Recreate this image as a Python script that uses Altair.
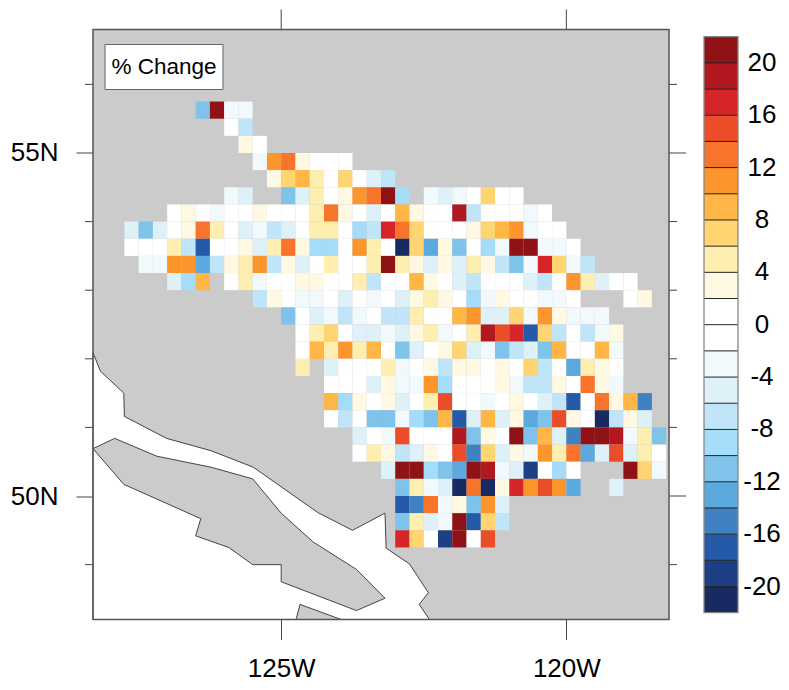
import altair as alt
import pandas as pd

# grid cells: (first column, values by column); None = no cell; 0 = white bin
ROW_00 = (5, [-11, 21, -3, -3])
ROW_01 = (7, [0, -7])
ROW_02 = (8, [3, 0])
ROW_03 = (9, [-3, 11, 13, 3, 0, 0, 0])
ROW_04 = (10, [3, 7, 9, 5, 0, 7, 0, -5, -7])
ROW_05 = (7, [-3, -5, None, None, -11, -5, 5, 0, 3, 11, 13, 21, -9, None, -3, -5, -3, 0, 7, 0, 0])
ROW_06 = (3, [0, 3, 0, -3, 0, 0, 3, 0, 0, 0, 5, 13, 3, 0, -5, 0, 9, 3, 0, 0, 19, -7, 0, 0, 0, -3, 0])
ROW_07 = (0, [-5, -11, -5, 0, 3, 13, 5, 0, -5, -3, -7, -5, 0, 5, 5, 0, -9, -7, 17, 13, 7, 0, 0, 0, 3, 7, 9, 11, -3, 0, 0])
ROW_08 = (0, [0, 0, 0, 5, -7, -17, 0, 0, 3, -5, 5, 13, 3, -9, -9, 0, 11, 5, 0, -21, 7, -13, 3, -11, 0, -9, -3, 21, 21, -3, -3, 0])
ROW_09 = (1, [-3, -3, 11, 11, -13, -7, 3, 5, 11, -7, 3, -5, 0, 5, 0, 0, 5, 21, 5, 3, -5, 3, -5, 5, 3, -7, -11, -3, 17, 7, -3, -7])
ROW_10 = (3, [-5, -9, 9, None, 0, 5, -3, 0, 0, 3, 3, 0, 0, 5, -7, 0, 0, 9, 3, 0, -5, -7, 0, 0, 0, -5, -7, 0, 11, 5, -5, 0, 0])
ROW_11 = (9, [-7, 3, 0, -3, -3, 0, -5, 0, -3, 0, -5, 3, 5, 3, 0, -9, -3, 3, 0, 0, -3, -3, 0, None, None, None, 0, 3])
ROW_12 = (11, [-11, 0, -5, -3, -7, -3, 0, -7, -7, 5, 0, 0, 9, 11, -5, -5, 7, -3, 11, 3, -3, -3, -3])
ROW_13 = (12, [0, 5, 7, 0, -5, -5, -3, -5, 3, 5, -3, 0, 5, 19, 15, 17, -17, 7, -7, 0, -7, -3, 3])
ROW_14 = (12, [0, 9, 5, 11, 5, 9, 0, -11, -5, 0, 3, 7, -5, -3, -11, -7, -5, -11, 9, 0, 0, 9, -3])
ROW_15 = (12, [5, None, -5, 0, 0, 0, 5, -3, 0, 3, -7, 3, 3, 0, 3, 0, 7, -7, 0, -13, 5, 3, 0])
ROW_16 = (14, [0, 0, 0, -5, 3, -3, -3, 11, -9, 0, 0, 0, 3, -3, -7, -7, 3, 0, 13, 3, -3])
ROW_17 = (14, [9, -9, 3, 0, 3, -5, 0, 5, 15, 0, 0, -3, 0, 3, 0, -5, -7, -17, 0, 13, 3, 9, -15])
ROW_18 = (14, [0, -7, 0, -11, -11, -3, -9, -11, 9, -17, -5, 9, -5, 3, -13, -11, 15, 3, 0, -21, -7, 3, -5])
ROW_19 = (16, [-5, 0, -3, 15, 0, 0, 0, 19, -11, 3, 0, 21, -11, 9, -5, -15, 21, 21, 19, -3, 5, -11])
ROW_20 = (16, [0, 5, 3, -7, -5, 3, 0, 15, -15, 7, -5, 3, -3, 11, 5, 13, -13, -5, 15, -5, 5, 0])
ROW_21 = (18, [-5, 21, 21, -9, -11, -13, 21, 19, -3, -5, -19, 0, -9, 0, None, None, None, 21, 7, -3])
ROW_22 = (19, [-11, 5, -3, -5, -21, 13, -21, 3, 17, 11, 15, 11, -13, None, None, -5])
ROW_23 = (19, [-17, -15, 13, -3, 3, -11, 11, -5])
ROW_24 = (19, [-11, 5, -5, -3, 21, -17, 7, -7])
ROW_25 = (19, [17, 7, 0, -19, 21, 0, 15])
ROWS = [ROW_00, ROW_01, ROW_02, ROW_03, ROW_04, ROW_05, ROW_06, ROW_07, ROW_08, ROW_09, ROW_10, ROW_11, ROW_12,
        ROW_13, ROW_14, ROW_15, ROW_16, ROW_17, ROW_18, ROW_19, ROW_20, ROW_21, ROW_22, ROW_23, ROW_24, ROW_25]

LON_WEST, LAT_NORTH, STEP = -127.75, 55.75, 0.25
LON_DOMAIN = [-128.3, -118.2]
LAT_DOMAIN = [48.2, 56.8]

WATER_LON = [-128.3, -128.17, -127.76, -127.75, -127.01, -126.23, -125.49, -124.36, -123.75, -123.18, -123.16, -122.75, -122.42, -122.58, -122.40, -128.3, -128.3]
WATER_LAT = [52.09, 51.82, 51.50, 51.16, 50.84, 50.66, 50.42, 49.76, 49.50, 49.75, 49.24, 49.01, 48.59, 48.42, 48.2, 48.2, 52.09]
ISLAND_LON = [-128.3, -127.92, -127.18, -126.23, -125.50, -125.0, -124.44, -123.68, -123.18, -123.68, -125.0, -125.0, -125.5, -125.92, -126.50, -126.41, -127.76, -128.3]
ISLAND_LAT = [50.69, 50.84, 50.58, 50.42, 50.25, 49.75, 49.33, 48.93, 48.51, 48.33, 48.75, 49.0, 49.0, 49.25, 49.42, 49.67, 50.17, 50.69]
ISLET_LON = [-124.74, -124.67, -123.95, -124.74]
ISLET_LAT = [48.2, 48.42, 48.2, 48.2]

COLORS = ["#182A61", "#1D3F85", "#245AA8", "#3F81C1", "#5CA9DD", "#7FC3EA", "#A4DCF9", "#C1E5F8", "#DEF0F8", "#F2F9FD", "#FFFFFF",
          "#FFFFFF", "#FFF8E3", "#FEEEB0", "#FFD572", "#FFB644", "#FD952D", "#F9742B", "#EA4D28", "#D62428", "#B21820", "#8F1216"]
LEVELS = list(range(-20, 21, 2))
BAR_VALUES = list(range(-20, 21, 4))
BAR_LABELS = [str(v) for v in BAR_VALUES]
LON_MAJOR = [-125, -120]
LAT_MAJOR = [50, 55]
LAT_MINOR = [49, 51, 52, 53, 54, 56]
LAND = "#CBCBCB"
INK = "#444444"
FONT = "Liberation Sans"
FSIZE = 26

records = []
for r, (start, vals) in enumerate(ROWS):
    for i, v in enumerate(vals):
        if v is None:
            continue
        c = start + i
        records.append({"lon": LON_WEST + c * STEP, "lon2": LON_WEST + (c + 1) * STEP,
                        "lat": LAT_NORTH - r * STEP, "lat2": LAT_NORTH - (r + 1) * STEP, "v": v})
cells_df = pd.DataFrame(records)

W, H = 576, 590
lon_s = alt.Scale(domain=LON_DOMAIN, nice=False, zero=False)
lat_s = alt.Scale(domain=LAT_DOMAIN, nice=False, zero=False)
color_s = alt.Scale(type="threshold", domain=LEVELS, range=COLORS)
x_axis = alt.Axis(values=LON_MAJOR, labelExpr="abs(datum.value) + 'W'", title=None, grid=False, domain=False,
                  tickSize=20, tickColor=INK, tickWidth=1, labelFontSize=FSIZE, labelFont=FONT,
                  labelPadding=16, labelColor="black")
y_axis = alt.Axis(values=LAT_MAJOR, labelExpr="datum.value + 'N'", title=None, grid=False, domain=False,
                  tickSize=17, tickColor=INK, tickWidth=1, labelFontSize=FSIZE, labelFont=FONT,
                  labelPadding=18, labelColor="black")
X = alt.X("lon:Q", scale=lon_s, axis=x_axis)
Y = alt.Y("lat:Q", scale=lat_s, axis=y_axis)


def poly(lons, lats, fill):
    df = pd.DataFrame({"lon": lons, "lat": lats, "i": range(len(lons))})
    return alt.Chart(df).mark_line(fill=fill, stroke=INK, strokeWidth=1, strokeJoin="miter").encode(X, Y, order="i:Q")


bg = alt.Chart(pd.DataFrame({"lon": [LON_DOMAIN[0]], "lon2": [LON_DOMAIN[1]], "lat": [LAT_DOMAIN[0]], "lat2": [LAT_DOMAIN[1]]}))
land = bg.mark_rect(fill=LAND).encode(X, x2="lon2:Q", y=Y, y2="lat2:Q")
frame = bg.mark_rect(fill=None, stroke="#555555", strokeWidth=1.5).encode(X, x2="lon2:Q", y=Y, y2="lat2:Q")

cells = alt.Chart(cells_df).mark_rect(stroke="#000000", strokeOpacity=0.015, strokeWidth=0.6).encode(
    X, x2="lon2:Q", y=Y, y2="lat2:Q", color=alt.Color("v:Q", scale=color_s, legend=None))

top_ticks = alt.Chart(pd.DataFrame({"lon": LON_MAJOR})).mark_rule(color=INK, strokeWidth=1).encode(X, y=alt.value(-20), y2=alt.value(0))
left_minor = alt.Chart(pd.DataFrame({"lat": LAT_MINOR})).mark_rule(color=INK, strokeWidth=1).encode(Y, x=alt.value(-8), x2=alt.value(0))
right_minor = alt.Chart(pd.DataFrame({"lat": LAT_MINOR})).mark_rule(color=INK, strokeWidth=1).encode(Y, x=alt.value(W), x2=alt.value(W + 8))
right_major = alt.Chart(pd.DataFrame({"lat": LAT_MAJOR})).mark_rule(color=INK, strokeWidth=1).encode(Y, x=alt.value(W), x2=alt.value(W + 17))

note = alt.Chart(pd.DataFrame({"t": ["% Change"]}))
note_box = note.mark_rect(fill="white", stroke="#666666", strokeWidth=1).encode(x=alt.value(12), x2=alt.value(130), y=alt.value(15), y2=alt.value(60))
note_txt = note.mark_text(font=FONT, fontSize=22.5, color="black", align="center", baseline="middle").encode(
    x=alt.value(71), y=alt.value(37), text="t:N")

map_layer = alt.layer(land, poly(WATER_LON, WATER_LAT, "white"), poly(ISLAND_LON, ISLAND_LAT, LAND), poly(ISLET_LON, ISLET_LAT, LAND),
                      cells, top_ticks, left_minor, right_minor, right_major, frame, note_box, note_txt)

# colour bar
edges = [-22] + LEVELS + [22]
bar_df = pd.DataFrame({"lo": edges[:-1], "hi": edges[1:]})
bar_df["v"] = (bar_df.lo + bar_df.hi) / 2
bar_x = alt.Scale(domain=[0, 1], range=[611, 645])
bar_y = alt.Scale(domain=[-22, 22], range=[583.2, 7.2], nice=False, zero=False)
bar_df["x0"], bar_df["x1"] = 0, 1
boxes = alt.Chart(bar_df).mark_rect().encode(
    x=alt.X("x0:Q", scale=bar_x, axis=None), x2="x1:Q",
    y=alt.Y("lo:Q", scale=bar_y, axis=None), y2="hi:Q",
    color=alt.Color("v:Q", scale=color_s, legend=None))
lines_df = pd.DataFrame({"lv": LEVELS, "x0": 0, "x1": 1})
lines = alt.Chart(lines_df).mark_rule(color="#222222", strokeWidth=1).encode(
    x=alt.X("x0:Q", scale=bar_x, axis=None), x2="x1:Q", y=alt.Y("lv:Q", scale=bar_y, axis=None))
outline = alt.Chart(pd.DataFrame({"x0": [0], "x1": [1], "lo": [-22], "hi": [22]})).mark_rect(fill=None, stroke="#888888", strokeWidth=1.3).encode(
    x=alt.X("x0:Q", scale=bar_x, axis=None), x2="x1:Q", y=alt.Y("lo:Q", scale=bar_y, axis=None), y2="hi:Q")
bar_txt = alt.Chart(pd.DataFrame({"lv": BAR_VALUES, "label": BAR_LABELS})).mark_text(font=FONT, fontSize=FSIZE, color="black", align="center", baseline="middle").encode(
    x=alt.value(669), y=alt.Y("lv:Q", scale=bar_y, axis=None), text="label:N")
bar_layer = alt.layer(boxes, lines, outline, bar_txt)

chart = alt.layer(map_layer, bar_layer).resolve_scale(x="independent", y="independent", color="shared").properties(
    width=W, height=H,
    padding={"left": 85, "top": 21.5, "right": 112, "bottom": 62},
    autosize=alt.AutoSizeParams(type="none"),
    background="white",
).configure_view(stroke=None)

chart.save("out.html", embed_options={"renderer": "svg", "actions": False})
